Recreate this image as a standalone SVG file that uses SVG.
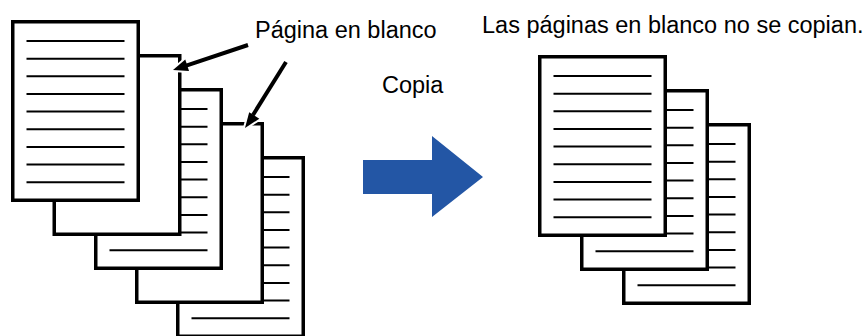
<svg xmlns="http://www.w3.org/2000/svg" width="868" height="336" viewBox="0 0 868 336">
<defs>
<style>
.pg{fill:#fff;stroke:#000;stroke-width:3.5}
.ln{stroke:#000;stroke-width:2}
.lbl{font-family:"Liberation Sans",Arial,sans-serif;font-size:23.5px;fill:#000}
.ptr{stroke:#000;stroke-width:4;fill:none}
.halo{stroke:#fff;stroke-width:4;fill:#fff;stroke-linejoin:round}
.head{fill:#000;stroke:none}
</style>
<g id="lines">
<line class="ln" x1="15.5" y1="21" x2="113.5" y2="21"/>
<line class="ln" x1="15.5" y1="38.65" x2="113.5" y2="38.65"/>
<line class="ln" x1="15.5" y1="56.3" x2="113.5" y2="56.3"/>
<line class="ln" x1="15.5" y1="73.95" x2="113.5" y2="73.95"/>
<line class="ln" x1="15.5" y1="91.6" x2="113.5" y2="91.6"/>
<line class="ln" x1="15.5" y1="109.25" x2="113.5" y2="109.25"/>
<line class="ln" x1="15.5" y1="126.9" x2="113.5" y2="126.9"/>
<line class="ln" x1="15.5" y1="144.55" x2="113.5" y2="144.55"/>
<line class="ln" x1="15.5" y1="162.2" x2="113.5" y2="162.2"/>
</g>
<rect id="sheet" class="pg" x="1.75" y="1.75" width="125.5" height="178.5"/>
</defs>
<g id="left-stack">
<g id="page5" transform="translate(176,156)"><use href="#sheet"/><use href="#lines"/></g>
<g id="page4" transform="translate(135,122)"><use href="#sheet"/></g>
<g id="page3" transform="translate(94,88)"><use href="#sheet"/><use href="#lines"/></g>
<g id="page2" transform="translate(52.5,54)"><use href="#sheet"/></g>
<g id="page1" transform="translate(11,20)"><use href="#sheet"/><use href="#lines"/></g>
</g>
<g id="right-stack">
<g id="copy3" transform="translate(622,123)"><use href="#sheet"/><use href="#lines"/></g>
<g id="copy2" transform="translate(580,89)"><use href="#sheet"/><use href="#lines"/></g>
<g id="copy1" transform="translate(538,55)"><use href="#sheet"/><use href="#lines"/></g>
</g>
<g id="connectors">
<polygon class="halo" points="173,70 185.3,59.6 189,71"/>
<line class="ptr" x1="248" y1="45" x2="184" y2="66.3"/>
<polygon class="head" points="173,70 185.3,59.6 189,71"/>
<polygon class="halo" points="245,128 249.2,112.3 259.3,118.7"/>
<line class="ptr" x1="286" y1="62" x2="253" y2="115"/>
<polygon class="head" points="245,128 249.2,112.3 259.3,118.7"/>
<polygon id="copy-arrow" points="363,160 432,160 432,136 483,177 432,217 432,194 363,194" fill="#2356a5"/>
</g>
<g id="labels">
<text class="lbl" x="255" y="38">Página en blanco</text>
<text class="lbl" x="382" y="93">Copia</text>
<text class="lbl" x="482" y="33">Las páginas en blanco no se copian.</text>
</g>
</svg>
